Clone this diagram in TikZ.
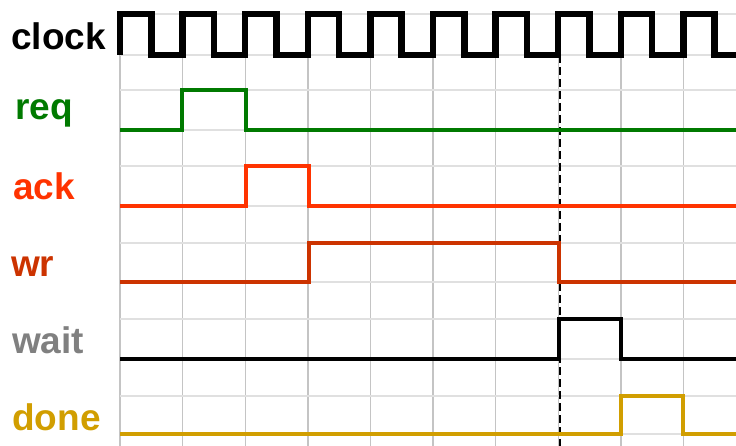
\documentclass[tikz,border=0pt]{standalone}
\usepackage{fontspec}
\setmainfont{Liberation Sans}
\usetikzlibrary{positioning}
\definecolor{reqc}{HTML}{007A00}
\definecolor{ackc}{HTML}{FF3300}
\definecolor{wrc}{HTML}{CC3300}
\definecolor{waitc}{HTML}{808080}
\definecolor{donec}{HTML}{D19E00}
\definecolor{gridv}{HTML}{C4C4C4}
\definecolor{gridh}{HTML}{E0E0E0}
\tikzset{vgrid/.style={draw=gridv,line width=1.4pt},hgrid/.style={draw=gridh,line width=1.4pt},clk/.style={draw=black,line width=6.5pt},sig/.style={line width=4.2pt},marker/.style={draw=black,line width=2.6pt,dash pattern=on 8pt off 4pt},lbl/.style={anchor=base west,inner sep=0pt,font=\fontsize{37}{40}\selectfont\bfseries}}

\begin{document}
\begin{tikzpicture}[x=1pt,y=-1pt]
\useasboundingbox (0,0) rectangle (736,446);
% grid
\foreach \k in {0,...,9} \draw[vgrid] ({120+62.6*\k},14) -- ({120+62.6*\k},446);
\foreach \h in {14,55,90,130,166,206,243,282,319,359,396,434} \draw[hgrid] (120,\h) -- (736,\h);
% sample point
\draw[marker] (560,55) -- (560,446);
% clock
\draw[clk] (120,55) foreach \i in {0,...,9} {-- ({120+62.6*\i},55) -- ({120+62.6*\i},14) -- ({151.3+62.6*\i},14) -- ({151.3+62.6*\i},55)} -- (740,55);
% signals
\draw[sig,reqc] (120,130) -- (182,130) -- (182,90) -- (246,90) -- (246,130) -- (736,130);
\draw[sig,ackc] (120,206) -- (246,206) -- (246,166) -- (309,166) -- (309,206) -- (736,206);
\draw[sig,wrc] (120,282) -- (309,282) -- (309,243) -- (559,243) -- (559,282) -- (736,282);
\draw[sig,black] (120,359) -- (559,359) -- (559,319) -- (621,319) -- (621,359) -- (736,359);
\draw[sig,donec] (120,434) -- (621,434) -- (621,396) -- (683,396) -- (683,434) -- (736,434);
% names
\node[lbl,text=black] (clock) at (11,50) {clock};
\node[lbl,text=reqc] (req) at (15,120) {req};
\node[lbl,text=ackc] (ack) at (13,200) {ack};
\node[lbl,text=wrc] (wr) at (11,277) {wr};
\node[lbl,text=waitc] (wait) at (12,353) {wait};
\node[lbl,text=donec] (done) at (12,430) {done};
\end{tikzpicture}
\end{document}
